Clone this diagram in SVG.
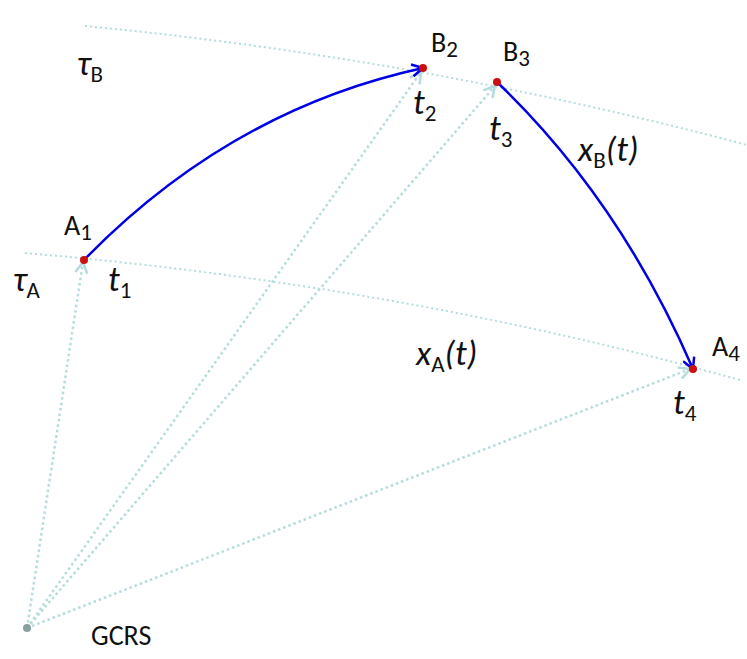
<svg xmlns="http://www.w3.org/2000/svg" width="747" height="659" viewBox="0 0 747 659">
<defs>
<marker id="ob" markerWidth="14" markerHeight="14" refX="12" refY="7" orient="auto" markerUnits="userSpaceOnUse"><path d="M1,1 L12,7 L1,13" fill="none" stroke="#0000e6" stroke-width="2.5"/></marker>
<marker id="og" markerWidth="14" markerHeight="14" refX="12" refY="7" orient="auto" markerUnits="userSpaceOnUse"><path d="M1,1 L12,7 L1,13" fill="none" stroke="#b4dcdc" stroke-width="2.5"/></marker>
<style>
.w{fill:none;stroke:#b4dcdc;stroke-width:2;stroke-dasharray:2 3}
.s{fill:none;stroke:#b4dcdc;stroke-width:2.5;stroke-dasharray:2.5 3}
.b{fill:none;stroke:#0000e6;stroke-width:2.5}
.pt{fill:#cc1010}
text{font-family:"Calibri","Liberation Sans",sans-serif;fill:#111}
.i{font-style:italic;font-size:35px}
.n{font-size:28px}
.sub{font-size:23px}
</style>
</defs>
<g id="world-lines">
<path class="w" d="M85,26 Q420,58 747,145"/>
<path class="w" d="M25,253 Q400,285 740,380"/>
</g>
<g id="connectors">
<path class="s" d="M27,628 L83,262" marker-end="url(#og)"/>
<path class="s" d="M27,628 L421,72" marker-end="url(#og)"/>
<path class="s" d="M27,628 L495,86" marker-end="url(#og)"/>
<path class="s" d="M27,628 L690,369" marker-end="url(#og)"/>
<path class="b" d="M84,260 Q230,110 423,68" marker-end="url(#ob)"/>
<path class="b" d="M497,82 Q620,200 693,369" marker-end="url(#ob)"/>
</g>
<g id="A1"><circle class="pt" cx="84" cy="260" r="4"/><text x="64" y="235" class="n">A<tspan class="sub" dy="5">1</tspan></text><text x="108" y="291" class="i">t<tspan class="sub" dy="7" font-style="normal">1</tspan></text></g>
<g id="B2"><circle class="pt" cx="423" cy="68" r="4"/><text x="431" y="52" class="n">B<tspan class="sub" dy="5">2</tspan></text><text x="413" y="114" class="i">t<tspan class="sub" dy="7" font-style="normal">2</tspan></text></g>
<g id="B3"><circle class="pt" cx="497" cy="82" r="4"/><text x="503" y="61" class="n">B<tspan class="sub" dy="5">3</tspan></text><text x="489" y="140" class="i">t<tspan class="sub" dy="7" font-style="normal">3</tspan></text></g>
<g id="A4"><circle class="pt" cx="693" cy="369" r="4"/><text x="712" y="356" class="n">A<tspan class="sub" dy="5">4</tspan></text><text x="673" y="414" class="i">t<tspan class="sub" dy="7" font-style="normal">4</tspan></text></g>
<g id="GCRS"><circle cx="27" cy="628" r="4" fill="#8aa0a0"/><text x="91" y="645" class="n">GCRS</text></g>
<g id="labels">
<text x="77" y="75" class="i">τ<tspan class="sub" dy="7" font-style="normal">B</tspan></text>
<text x="13" y="291" class="i">τ<tspan class="sub" dy="7" font-style="normal">A</tspan></text>
<text x="578" y="161" class="i">x<tspan class="sub" dy="7" font-style="normal">B</tspan><tspan dy="-7">(t)</tspan></text>
<text x="416" y="365" class="i">x<tspan class="sub" dy="7" font-style="normal">A</tspan><tspan dy="-7">(t)</tspan></text>
</g>
</svg>
